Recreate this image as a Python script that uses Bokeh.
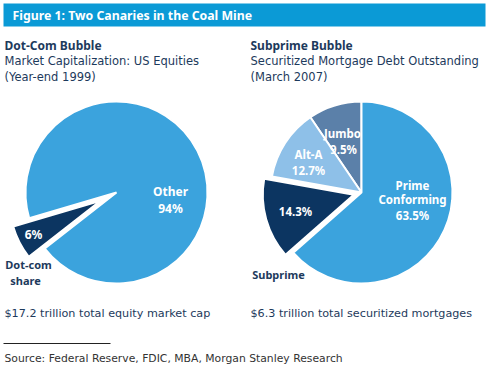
import math
from bokeh.plotting import figure
from bokeh.models import Range1d
from bokeh.core.properties import value
from bokeh.embed import file_html
from bokeh.resources import INLINE

# ---- data ----
title_text = "Figure 1: Two Canaries in the Coal Mine"
left_heading = ["Dot-Com Bubble", "Market Capitalization: US Equities", "(Year-end 1999)"]
right_heading = ["Subprime Bubble", "Securitized Mortgage Debt Outstanding", "(March 2007)"]

left_labels = ["Dot-com share", "Other"]
left_values = [6, 94]
left_start_deg = 196.4

right_labels = ["Jumbo", "Alt-A", "Subprime", "Prime Conforming"]
right_values = [9.5, 12.7, 14.3, 63.5]
right_start_deg = 90.0

left_total = "$17.2 trillion total equity market cap"
right_total = "$6.3 trillion total securitized mortgages"
source_text = "Source: Federal Reserve, FDIC, MBA, Morgan Stanley Research"

# ---- style ----
LIGHT = "#3ba3dd"
NAVY = "#0c3561"
STEEL = "#5b80a9"
PALE = "#8ec0e8"
BAR = "#0b9ad6"
TXT = "#1d3a5c"
BOLDF = "Noto Sans"
REGF = "DejaVu Sans"

W, H = 489, 368
p = figure(width=W, height=H, output_backend="svg", toolbar_location=None,
           x_range=Range1d(0, W), y_range=Range1d(0, H), min_border=0)
p.axis.visible = False
p.grid.visible = False
p.outline_line_color = None
p.background_fill_color = "white"
p.border_fill_color = "white"

def Y(py):
    return H - py

def txt(x, y, s, size, color=TXT, bold=False, align="left", font=None):
    if font is None:
        font = BOLDF if bold else REGF
    p.text(x=[x], y=[Y(y)], text=[s], text_font=value(font),
           text_font_size=f"{size}px", text_color=color,
           text_font_style="bold" if bold else "normal",
           text_align=align, text_baseline="middle")

# title bar
p.quad(left=[3], right=[485], top=[Y(3)], bottom=[Y(26)], fill_color=BAR, line_color=None)
txt(12, 15, title_text, 12.3, color="white", bold=True)

# headings
for i, s in enumerate(left_heading):
    txt(4, 45 + i * 15.5, s, 12 if i == 0 else 11.5, bold=(i == 0))
for i, s in enumerate(right_heading):
    txt(250, 45 + i * 15.5, s, 12 if i == 0 else 11.5, bold=(i == 0))

def pie(cx, cy, r, values, start_deg, colors, explode):
    tot = sum(values)
    a = start_deg
    for v, c, e in zip(values, colors, explode):
        span = v / tot * 360.0
        mid = math.radians(a + span / 2)
        ox, oy = e * math.cos(mid), e * math.sin(mid)
        p.wedge(x=[cx + ox], y=[Y(cy) + oy], radius=r,
                start_angle=math.radians(a), end_angle=math.radians(a + span),
                fill_color=c, line_color="white", line_width=2)
        a += span

pie(116, 192, 91, left_values, left_start_deg, [NAVY, LIGHT], [18, 0])
pie(361, 192, 91, right_values, right_start_deg, [STEEL, PALE, NAVY, LIGHT], [0, 0, 8, 0])

# pie labels
txt(170, 191, "Other", 12, color="white", bold=True, align="center")
txt(170, 208, f"{left_values[1]}%", 12, color="white", bold=True, align="center")
txt(33, 234, f"{left_values[0]}%", 12, color="white", bold=True, align="center")
txt(28, 264, "Dot-com", 11, bold=True, align="center")
txt(25, 280, "share", 11, bold=True, align="center")

txt(342, 133, "Jumbo", 11.5, color="white", bold=True, align="center")
txt(343, 149, f"{right_values[0]}%", 11.5, color="white", bold=True, align="center")
txt(308, 154, "Alt-A", 11.5, color="white", bold=True, align="center")
txt(308, 170, f"{right_values[1]}%", 11.5, color="white", bold=True, align="center")
txt(412, 185, "Prime", 11.5, color="white", bold=True, align="center")
txt(412, 199, "Conforming", 11.5, color="white", bold=True, align="center")
txt(412, 215, f"{right_values[3]}%", 11.5, color="white", bold=True, align="center")
txt(295, 211, f"{right_values[2]}%", 11.5, color="white", bold=True, align="center")
txt(278, 274, "Subprime", 11, bold=True, align="center")

# totals
txt(4, 313, left_total, 11.2)
txt(250, 313, right_total, 11.2)

# rule and source
p.segment(x0=[3], y0=[Y(343)], x1=[110], y1=[Y(343)], line_color="#222222", line_width=1)
txt(4, 358, source_text, 10.8, color="#333333")

open("out.html", "w").write(file_html(p, INLINE))
